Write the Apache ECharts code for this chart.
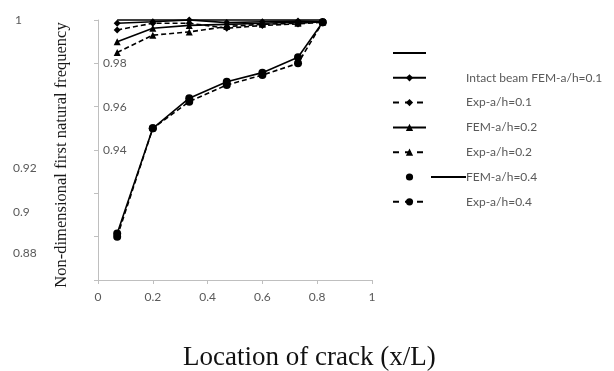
<!DOCTYPE html>
<html>
<head>
<meta charset="utf-8">
<script src="https://cdn.jsdelivr.net/npm/echarts@6/dist/echarts.min.js"></script>
<style>html,body{margin:0;padding:0;background:#fff}#c{width:614px;height:371px}</style>
</head>
<body>
<div id="c"></div>
<script>
var crackLocation = [0.07, 0.2, 0.333, 0.47, 0.6, 0.73, 0.82];
var intactBeam = [1.0, 1.0, 1.0, 1.0, 1.0, 1.0, 1.0];
var fem01 = [0.9985, 0.9992, 1.0, 0.9988, 0.9992, 0.9995, 0.9992];
var exp01 = [0.9954, 0.9985, 0.9985, 0.9962, 0.9975, 0.9982, 0.9990];
var fem02 = [0.9900, 0.9962, 0.9975, 0.9980, 0.9985, 0.9990, 0.9992];
var exp02 = [0.9850, 0.9930, 0.9945, 0.9970, 0.9980, 0.9985, 0.9992];
var fem04 = [0.9015, 0.9500, 0.9639, 0.9715, 0.9757, 0.9828, 0.9990];
var exp04 = [0.9000, 0.9500, 0.9623, 0.9700, 0.9746, 0.9800, 0.9990];
var xTicks = [0, 0.2, 0.4, 0.6, 0.8, 1];
var innerYLabels = ['0.98', '0.96', '0.94'];
var outerYLabels = ['1', '0.92', '0.9', '0.88'];
var seriesNames = ['Intact beam', 'FEM-a/h=0.1', 'Exp-a/h=0.1', 'FEM-a/h=0.2', 'Exp-a/h=0.2', 'FEM-a/h=0.4', 'Exp-a/h=0.4'];
var legendTexts = ['', 'Intact beam FEM-a/h=0.1', 'Exp-a/h=0.1', 'FEM-a/h=0.2', 'Exp-a/h=0.2', 'FEM-a/h=0.4', 'Exp-a/h=0.4'];

function pairs(ys) { return crackLocation.map(function (x, i) { return [x, ys[i]]; }); }
function fmt(v) { return String(Math.round(v * 100) / 100); }

var gray = '#595959';
var axisGray = '#bfbfbf';
var labelFont = 'Lato, "Open Sans", sans-serif';

function mk(name, ys, symbol, size, dashed) {
  return {
    name: name, type: 'line', data: pairs(ys), clip: false,
    symbol: symbol, symbolSize: size, showSymbol: symbol !== 'none',
    itemStyle: { color: '#000' },
    lineStyle: { color: '#000', width: 1.6, type: dashed ? [5, 3] : 'solid' },
    emphasis: { disabled: true }
  };
}

var chart = echarts.init(document.getElementById('c'), null, { renderer: 'canvas' });
chart.setOption({
  animation: false,
  backgroundColor: '#fff',
  title: {
    text: 'Location of crack (x/L)', left: 178, top: 339,
    textStyle: { fontFamily: '"Liberation Serif", serif', fontSize: 27, fontWeight: 'normal', color: '#111' }
  },
  grid: { left: 98, right: 242, top: 20, bottom: 91 },
  legend: {
    orient: 'vertical', left: 387, top: 42,
    itemWidth: 33, itemHeight: 9, itemGap: 12.8,
    data: seriesNames.map(function (n, i) {
      if (i === 0) return { name: n, itemStyle: { opacity: 0 } };
      if (i === 5) return { name: n, lineStyle: { opacity: 0 } };
      if (i === 2 || i === 4 || i === 6) return { name: n, lineStyle: { type: [6, 6] } };
      return { name: n };
    }),
    formatter: function (name) {
      var i = seriesNames.indexOf(name);
      var t = legendTexts[i];
      var lead = i === 5 ? '{ln|}' : '{sp|}';
      return t ? lead + '{t|' + t + '}' : '{sp|}';
    },
    textStyle: {
      color: gray, fontFamily: labelFont, fontSize: 12,
      rich: {
        sp: { width: 35, height: 15 },
        ln: { width: 35, height: 2, backgroundColor: '#000', verticalAlign: 'middle' },
        t: { color: gray, fontFamily: labelFont, fontSize: 12, height: 15 }
      }
    },
    selectedMode: false
  },
  xAxis: {
    type: 'value', min: 0, max: 1, interval: 0.2,
    axisLine: { show: true, lineStyle: { color: axisGray, width: 1 } },
    axisTick: { show: true, length: 4, lineStyle: { color: axisGray } },
    splitLine: { show: false },
    axisLabel: {
      color: gray, fontFamily: labelFont, fontSize: 12, margin: 11,
      formatter: function (v) { var s = fmt(v); return xTicks.map(String).indexOf(s) >= 0 ? s : ''; }
    }
  },
  yAxis: [{
    type: 'value', min: 0.88, max: 1, interval: 0.02, position: 'left',
    name: 'Non-dimensional first natural frequency', nameLocation: 'middle', nameGap: 28,
    nameTextStyle: { fontFamily: '"Liberation Serif", serif', fontSize: 16.5, color: '#1a1a1a', padding: [0, 10, 0, 0] },
    axisLine: { show: true, lineStyle: { color: axisGray, width: 1 } },
    axisTick: { show: true, length: 4, lineStyle: { color: axisGray } },
    splitLine: { show: false },
    axisLabel: {
      inside: true, margin: 5, color: gray, fontFamily: labelFont, fontSize: 12,
      showMinLabel: true, showMaxLabel: true,
      formatter: function (v) { var s = fmt(v); return innerYLabels.indexOf(s) >= 0 ? s : ''; }
    }
  }, {
    type: 'value', min: 0.88, max: 1, interval: 0.02, position: 'left', offset: 85,
    axisLine: { show: false }, axisTick: { show: false }, splitLine: { show: false },
    axisLabel: {
      align: 'left', margin: 0, color: gray, fontFamily: labelFont, fontSize: 12,
      showMinLabel: true, showMaxLabel: true,
      formatter: function (v) {
        var s = fmt(v);
        if (outerYLabels.indexOf(s) < 0) return '';
        if (s === '1') return '{a|' + s + '}';
        if (s === '0.88') return '{c|' + s + '}';
        return '{b|' + s + '}';
      },
      rich: {
        a: { color: gray, fontFamily: labelFont, fontSize: 12, padding: [0, 0, 0, 2] },
        b: { color: gray, fontFamily: labelFont, fontSize: 12, padding: [0, 0, 50, 0] },
        c: { color: gray, fontFamily: labelFont, fontSize: 12, padding: [0, 0, 54, 0] }
      }
    }
  }],
  series: [
    mk(seriesNames[0], intactBeam, 'none', 0, false),
    mk(seriesNames[1], fem01, 'diamond', 7, false),
    mk(seriesNames[2], exp01, 'diamond', 7, true),
    mk(seriesNames[3], fem02, 'triangle', 7, false),
    mk(seriesNames[4], exp02, 'triangle', 7, true),
    mk(seriesNames[5], fem04, 'circle', 8, false),
    mk(seriesNames[6], exp04, 'circle', 8, true)
  ]
});
</script>
</body>
</html>
